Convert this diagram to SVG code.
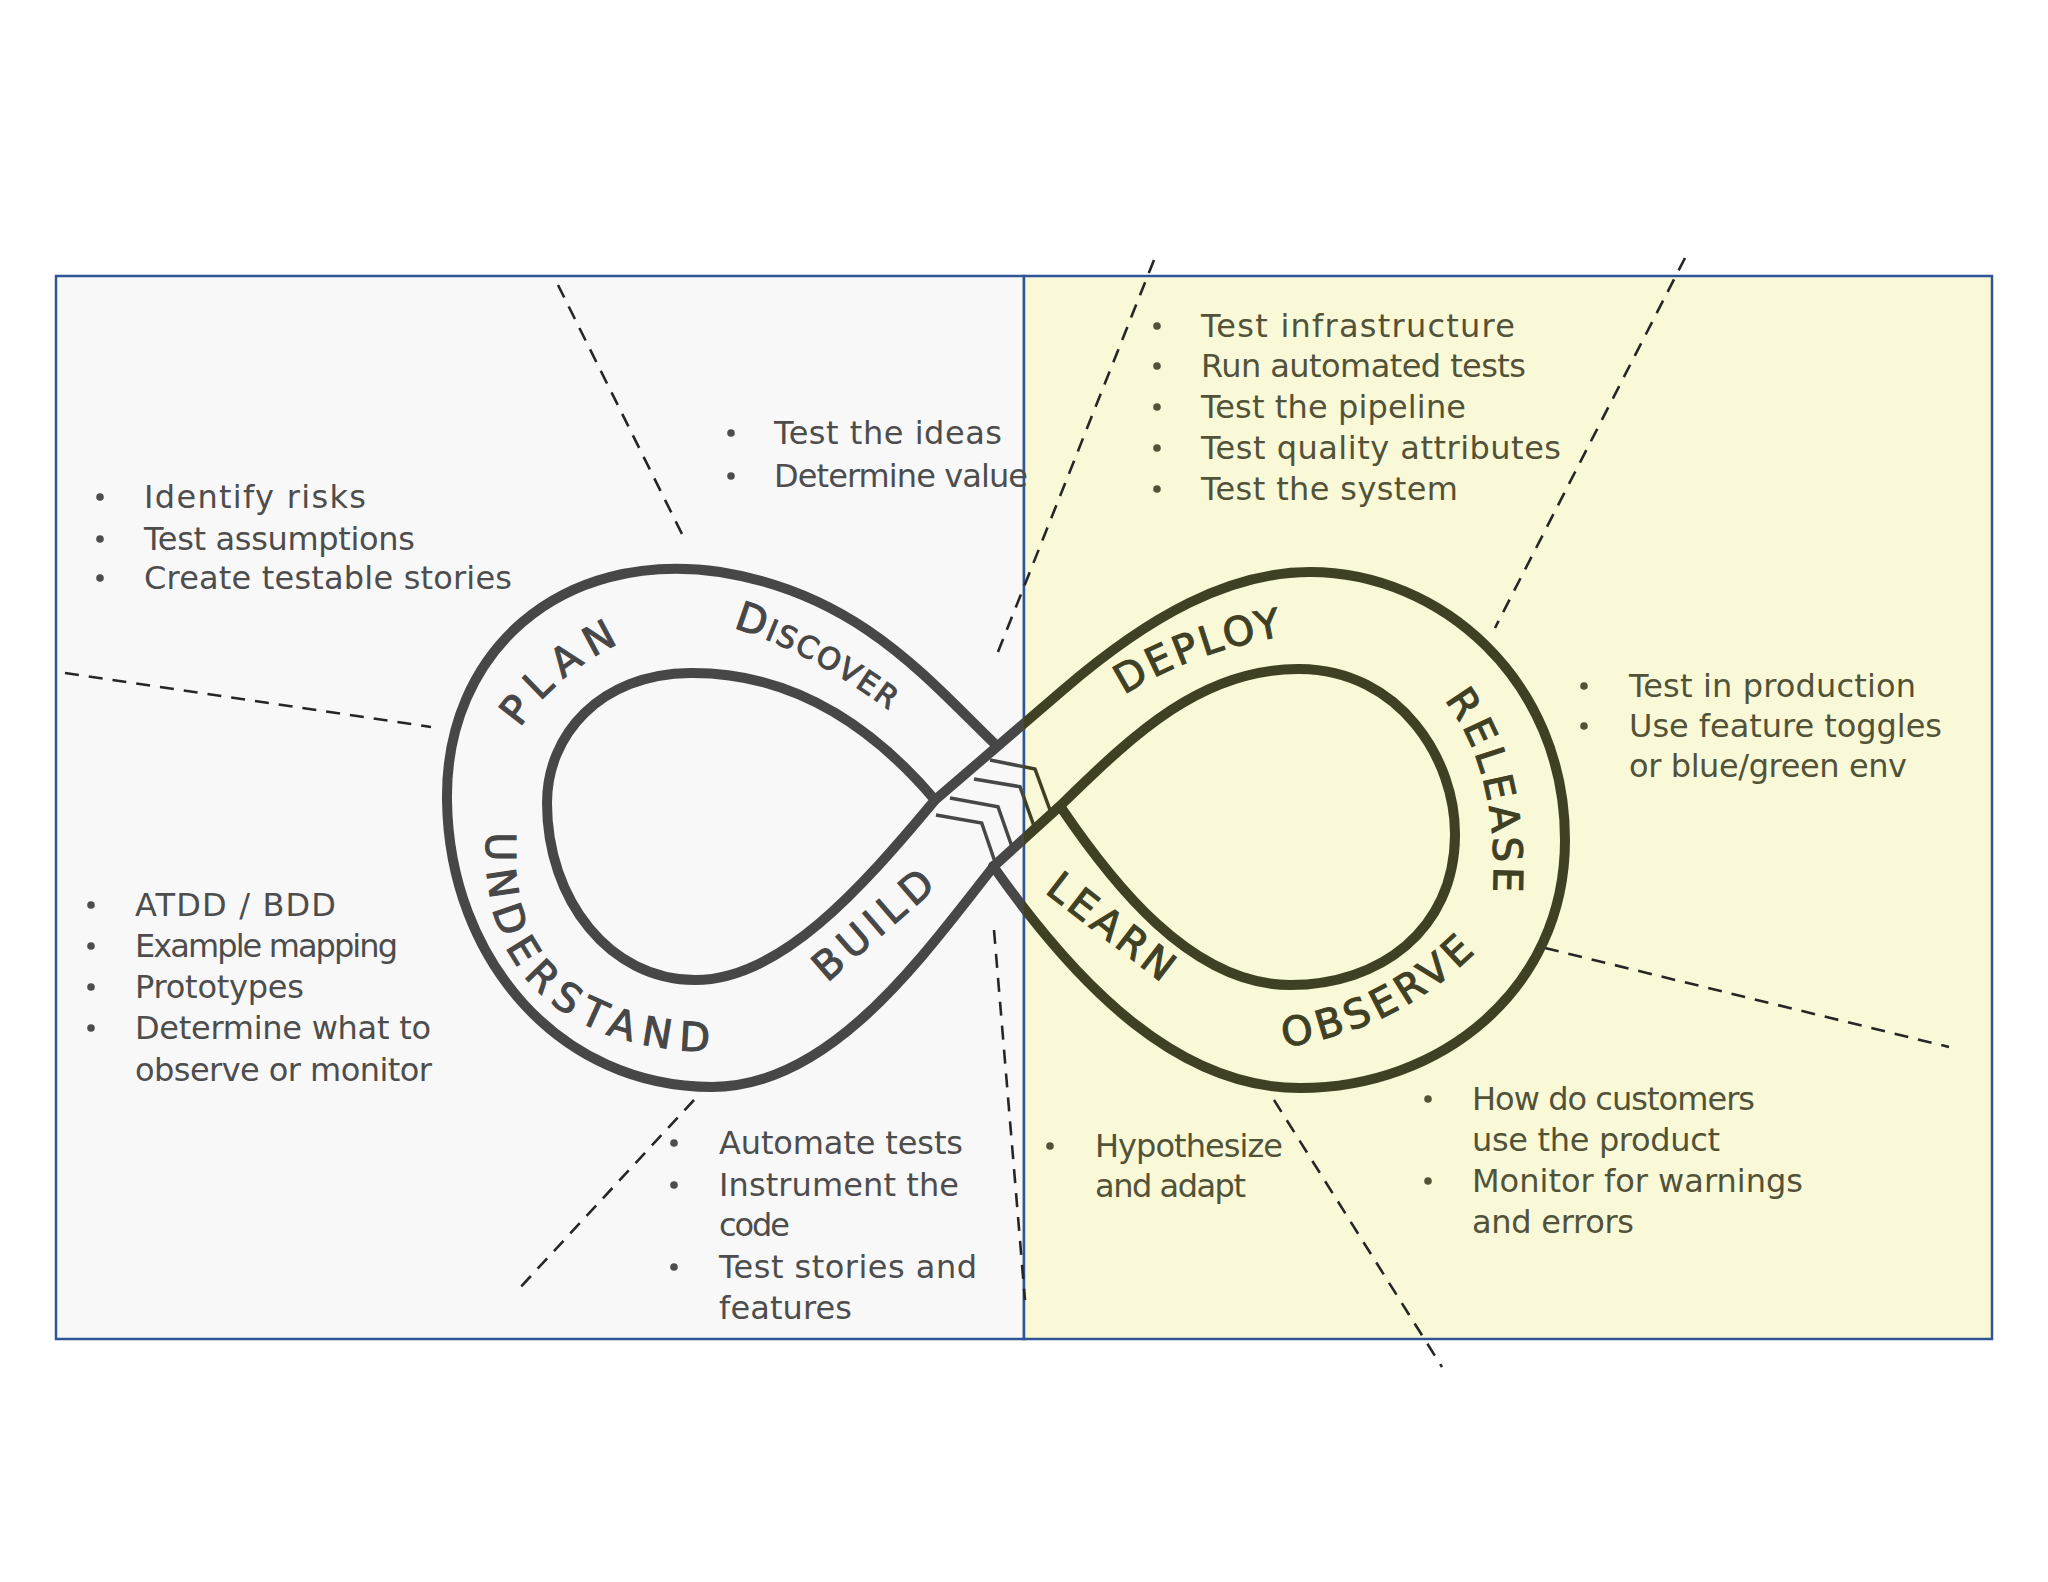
<svg xmlns="http://www.w3.org/2000/svg" xmlns:xlink="http://www.w3.org/1999/xlink" width="2048" height="1582" viewBox="0 0 2048 1582">
<defs>
<style>
.t{font-family:"DejaVu Sans","Liberation Sans",sans-serif;font-size:32px}
.tl{fill:#4d4d4d}
.tr{fill:#525239}
.bl{fill:#4d4d4d}
.br{fill:#525239}
.dash{stroke:#262626;stroke-width:2.6;stroke-dasharray:14 10;fill:none}
.band{fill:none;stroke:currentColor;stroke-width:10;stroke-linejoin:round;stroke-linecap:round}
.chev{fill:none;stroke:currentColor;stroke-width:3.5;stroke-linejoin:miter}
.lbl{font-family:"DejaVu Sans","Liberation Sans",sans-serif;font-size:40px;fill:currentColor;stroke:currentColor;stroke-width:1.1}
.panel{stroke:#2f5597;stroke-width:2.5}
</style>
<clipPath id="clipL"><rect x="0" y="0" width="1024" height="1582"/></clipPath>
<clipPath id="clipR"><rect x="1024" y="0" width="1024" height="1582"/></clipPath>
<path id="pPlan" d="M 520 728 Q 557 672 626 640"/>
<path id="pDisc" d="M 733 628 Q 815 652 910 726"/>
<path id="pUnd" d="M 487 832 C 478 980 570 1058 745 1052"/>
<path id="pBuild" d="M 827 983 L 950 876"/>
<path id="pDeploy" d="M 1124 695 Q 1195 650 1290 635"/>
<path id="pRel" d="M 1444 700 Q 1500 770 1493 900"/>
<path id="pObs" d="M 1284 1047 Q 1400 1030 1482 946"/>
<path id="pLearn" d="M 1044 892 L 1170 989"/>
<g id="figure">
<g id="chevrons">
<polyline class="chev" points="990,760 1035,769 1050,810"/>
<polyline class="chev" points="974,779 1020,786.7 1034,826"/>
<polyline class="chev" points="950,798 998,806.7 1011.7,846"/>
<polyline class="chev" points="936,815 981.7,823 995,862"/>
</g>
<path class="band" d="M 996 745 C 930 682 860 594 720 572 C 560 549 445 652 447 800 C 449 960 560 1087 712 1087 C 830 1087 920 960 994 866 L 1060 806 C 1130 738 1200 668 1300 669 C 1400 670 1456 760 1455 836 C 1454 930 1380 985 1290 985 C 1190 985 1110 880 1060 806"/>
<path class="band" d="M 935 800 C 880 735 800 672 690 673 C 600 674 547 735 547 803 C 547 900 610 980 695 980 C 780 980 860 890 935 800 L 1063 690 C 1150 615 1230 572 1310 572 C 1440 572 1565 680 1565 840 C 1565 990 1440 1088 1300 1088 C 1180 1088 1080 990 993 866"/>
<g id="labels">
<text class="lbl" letter-spacing="9"><textPath xlink:href="#pPlan">PLAN</textPath></text>
<text class="lbl" letter-spacing="2"><textPath xlink:href="#pDisc"><tspan font-size="40">D</tspan><tspan font-size="30">ISCOVER</tspan></textPath></text>
<text class="lbl" letter-spacing="9"><textPath xlink:href="#pUnd">UNDERSTAND</textPath></text>
<text class="lbl" letter-spacing="6"><textPath xlink:href="#pBuild">BUILD</textPath></text>
<text class="lbl" letter-spacing="3"><textPath xlink:href="#pDeploy">DEPLOY</textPath></text>
<text class="lbl" letter-spacing="4"><textPath xlink:href="#pRel">RELEASE</textPath></text>
<text class="lbl" letter-spacing="5"><textPath xlink:href="#pObs">OBSERVE</textPath></text>
<text class="lbl" letter-spacing="4"><textPath xlink:href="#pLearn">LEARN</textPath></text>
</g>
</g>
</defs>
<rect x="0" y="0" width="2048" height="1582" fill="#ffffff"/>
<rect id="panel-left" class="panel" x="56" y="276" width="968" height="1063" fill="#f8f8f9"/>
<rect id="panel-right" class="panel" x="1024" y="276" width="968" height="1063" fill="#f9f9d8"/>
<g id="dividers">
<line class="dash" x1="558" y1="285" x2="684" y2="538"/>
<line class="dash" x1="65" y1="673" x2="431" y2="727"/>
<line class="dash" x1="1154" y1="260" x2="996" y2="657"/>
<line class="dash" x1="1685" y1="258" x2="1495" y2="628"/>
<line class="dash" x1="1545" y1="948" x2="1949" y2="1047"/>
<line class="dash" x1="1274" y1="1100" x2="1442" y2="1367"/>
<line class="dash" x1="994" y1="930" x2="1025" y2="1300"/>
<line class="dash" x1="694" y1="1100" x2="516" y2="1292"/>
</g>
<g id="infinity-loop">
<use xlink:href="#figure" clip-path="url(#clipL)" style="color:#474747"/>
<use xlink:href="#figure" clip-path="url(#clipR)" style="color:#404024"/>
</g>
<g id="notes-plan" class="t tl">
<circle class="bl" cx="100" cy="497" r="3.8"/><text x="144" y="508" textLength="222" lengthAdjust="spacing">Identify risks</text>
<circle class="bl" cx="100" cy="539" r="3.8"/><text x="144" y="550" textLength="271" lengthAdjust="spacing">Test assumptions</text>
<circle class="bl" cx="100" cy="578" r="3.8"/><text x="144" y="589" textLength="368" lengthAdjust="spacing">Create testable stories</text>
</g>
<g id="notes-discover" class="t tl">
<circle class="bl" cx="731" cy="433" r="3.8"/><text x="774" y="444" textLength="228" lengthAdjust="spacing">Test the ideas</text>
<circle class="bl" cx="731" cy="476" r="3.8"/><text x="774" y="487" textLength="254" lengthAdjust="spacing">Determine value</text>
</g>
<g id="notes-deploy" class="t tr">
<circle class="br" cx="1157" cy="326" r="3.8"/><text x="1201" y="337" textLength="314" lengthAdjust="spacing">Test infrastructure</text>
<circle class="br" cx="1157" cy="366" r="3.8"/><text x="1201" y="377" textLength="325" lengthAdjust="spacing">Run automated tests</text>
<circle class="br" cx="1157" cy="407" r="3.8"/><text x="1201" y="418" textLength="265" lengthAdjust="spacing">Test the pipeline</text>
<circle class="br" cx="1157" cy="448" r="3.8"/><text x="1201" y="459" textLength="360" lengthAdjust="spacing">Test quality attributes</text>
<circle class="br" cx="1157" cy="489" r="3.8"/><text x="1201" y="500" textLength="257" lengthAdjust="spacing">Test the system</text>
</g>
<g id="notes-release" class="t tr">
<circle class="br" cx="1584" cy="686" r="3.8"/><text x="1629" y="697" textLength="287" lengthAdjust="spacing">Test in production</text>
<circle class="br" cx="1584" cy="726" r="3.8"/><text x="1629" y="737" textLength="313" lengthAdjust="spacing">Use feature toggles</text>
<text x="1629" y="777" textLength="278" lengthAdjust="spacing">or blue/green env</text>
</g>
<g id="notes-understand" class="t tl">
<circle class="bl" cx="91" cy="905" r="3.8"/><text x="135" y="916" textLength="201" lengthAdjust="spacing">ATDD / BDD</text>
<circle class="bl" cx="91" cy="946" r="3.8"/><text x="135" y="957" textLength="263" lengthAdjust="spacing">Example mapping</text>
<circle class="bl" cx="91" cy="987" r="3.8"/><text x="135" y="998" textLength="169" lengthAdjust="spacing">Prototypes</text>
<circle class="bl" cx="91" cy="1028" r="3.8"/><text x="135" y="1039" textLength="296" lengthAdjust="spacing">Determine what to</text>
<text x="135" y="1081" textLength="297" lengthAdjust="spacing">observe or monitor</text>
</g>
<g id="notes-build" class="t tl">
<circle class="bl" cx="674" cy="1143" r="3.8"/><text x="719" y="1154" textLength="244" lengthAdjust="spacing">Automate tests</text>
<circle class="bl" cx="674" cy="1185" r="3.8"/><text x="719" y="1196" textLength="240" lengthAdjust="spacing">Instrument the</text>
<text x="719" y="1236" textLength="71" lengthAdjust="spacing">code</text>
<circle class="bl" cx="674" cy="1267" r="3.8"/><text x="719" y="1278" textLength="258" lengthAdjust="spacing">Test stories and</text>
<text x="719" y="1319" textLength="133" lengthAdjust="spacing">features</text>
</g>
<g id="notes-learn" class="t tr">
<circle class="br" cx="1050" cy="1146" r="3.8"/><text x="1095" y="1157" textLength="188" lengthAdjust="spacing">Hypothesize</text>
<text x="1095" y="1197" textLength="151" lengthAdjust="spacing">and adapt</text>
</g>
<g id="notes-observe" class="t tr">
<circle class="br" cx="1428" cy="1099" r="3.8"/><text x="1472" y="1110" textLength="283" lengthAdjust="spacing">How do customers</text>
<text x="1472" y="1151" textLength="248" lengthAdjust="spacing">use the product</text>
<circle class="br" cx="1428" cy="1181" r="3.8"/><text x="1472" y="1192" textLength="331" lengthAdjust="spacing">Monitor for warnings</text>
<text x="1472" y="1233" textLength="162" lengthAdjust="spacing">and errors</text>
</g>
</svg>
